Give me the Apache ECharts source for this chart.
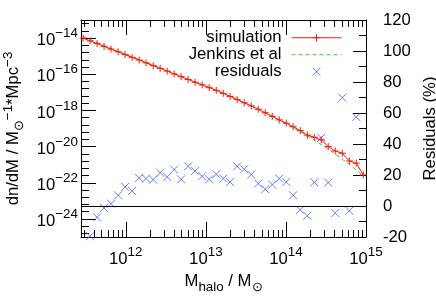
<!DOCTYPE html>
<html><head><meta charset="utf-8">
<script src="https://cdn.jsdelivr.net/npm/echarts@6/dist/echarts.min.js"></script>
<style>html,body{margin:0;padding:0;background:#fff}#c{width:436px;height:305px}</style>
</head><body><div id="c"></div>
<script>
// ---- data ----
const massBins = [2.93e11,3.58e11,4.38e11,5.36e11,6.55e11,8.02e11,9.81e11,1.20e12,1.47e12,1.79e12,
  2.20e12,2.69e12,3.29e12,4.02e12,4.91e12,6.01e12,7.35e12,8.99e12,1.10e13,1.35e13,
  1.65e13,2.01e13,2.46e13,3.01e13,3.69e13,4.51e13,5.51e13,6.75e13,8.25e13,1.01e14,
  1.23e14,1.51e14,1.85e14,2.26e14,2.76e14,3.38e14,4.13e14,5.06e14,6.19e14,7.57e14,9.26e14];
const simulation = [1.00e-14,7.01e-15,4.98e-15,3.49e-15,2.45e-15,1.74e-15,1.22e-15,8.55e-16,6.08e-16,4.26e-16,
  2.99e-16,2.12e-16,1.49e-16,1.04e-16,7.33e-17,5.13e-17,3.60e-17,2.59e-17,1.82e-17,1.29e-17,
  8.83e-18,5.96e-18,3.97e-18,2.65e-18,1.77e-18,1.16e-18,7.45e-19,4.66e-19,2.99e-19,1.97e-19,
  1.26e-19,7.62e-20,4.31e-20,3.26e-20,2.34e-20,1.00e-20,5.66e-21,4.28e-21,1.60e-21,1.21e-21,2.71e-22];
const jenkins = [1.29e-14,8.48e-15,5.73e-15,3.92e-15,2.71e-15,1.88e-15,1.32e-15,9.23e-16,6.47e-16,4.54e-16,
  3.18e-16,2.23e-16,1.57e-16,1.10e-16,7.71e-17,5.41e-17,3.79e-17,2.66e-17,1.84e-17,1.27e-17,
  8.71e-18,5.96e-18,4.02e-18,2.68e-18,1.77e-18,1.15e-18,7.36e-19,4.66e-19,2.92e-19,1.80e-19,
  1.10e-19,6.62e-20,3.94e-20,2.29e-20,1.29e-20,7.12e-21,3.83e-21,2.01e-21,1.02e-21,5.10e-22,2.48e-22];
const residuals = [null,-19.5,-7.3,-1.3,1.5,6.9,12.3,9.7,18.1,17.7,
  17.0,21.5,18.7,23.5,17.2,25.6,22.6,19.2,17.2,20.5,
  17.7,15.5,25.6,23.7,20.3,14.5,10.8,13.8,17.7,15.5,
  6.9,-2.5,-6.3,15.3,44.0,15.1,-4.5,69.9,-3.1,57.4,null];
const xMajorTicks = [1e12,1e13,1e14,0.9999999e15];
const xMinorTicks = [3e11,4e11,5e11,6e11,7e11,8e11,9e11,
  2e12,3e12,4e12,5e12,6e12,7e12,8e12,9e12,
  2e13,3e13,4e13,5e13,6e13,7e13,8e13,9e13,
  2e14,3e14,4e14,5e14,6e14,7e14,8e14,9e14];
const yMajorExp = [-24,-22,-20,-18,-16,-14];
const yMinorExp = [-24.8,-24.4,-23.6,-23.2,-22.8,-22.4,-21.6,-21.2,-20.8,-20.4,-19.6,-19.2,-18.8,-18.4,
  -17.6,-17.2,-16.8,-16.4,-15.6,-15.2,-14.8,-14.4,-13.6,-13.2];

// ---- styling ----
const FONT = '"Liberation Sans", Arial, Helvetica, sans-serif';
const RED = '#ff1a0a', GREEN = '#33cc33', BLUE = '#3b5cff';
const FS = 16.7, FSS = 13.4;
const PLUS = 'path://M5,0L5,10M0,5L10,5';
const CROSS = 'path://M0,0L10,10M10,0L0,10';
const CROSS_PAD = 'path://M-1,-1M11,11M0,0L10,10M10,0L0,10';
const yMajorTicks = yMajorExp.map(e => Math.pow(10, e));
const yMinorTicks = yMinorExp.map(e => Math.pow(10, e));

function powLabel(v) {
  const e = Math.round(Math.log10(v));
  return '{b|10}{e|' + String(e).replace('-', '\u2212') + '}';
}
const richPow = {
  b: {fontSize: FS, fontFamily: FONT, color: '#000', lineHeight: 22, verticalAlign: 'bottom'},
  e: {fontSize: FSS, fontFamily: FONT, color: '#000', lineHeight: 12, verticalAlign: 'top'}
};
const richName = {
  t: {fontSize: FS, fontFamily: FONT, color: '#000', lineHeight: 24},
  s: {fontSize: FSS, fontFamily: FONT, color: '#000', lineHeight: 12, verticalAlign: 'bottom'},
  p: {fontSize: FSS, fontFamily: FONT, color: '#000', lineHeight: 12, verticalAlign: 'top'}
};
const X0 = 2.76e11, X1 = 1e15, Y0 = 1e-25, Y1 = 1e-13;
const line = {show: true, onZero: false, lineStyle: {color: '#000', width: 1}};
const noLine = {show: false, onZero: false};

function xAx(pos, major, show) {
  return {
    type: 'log', position: pos, min: X0, max: X1,
    axisLine: show ? line : noLine,
    axisTick: {show: true, inside: true, length: major ? 15 : 7, customValues: major ? xMajorTicks : xMinorTicks,
      lineStyle: {color: '#000', width: 1}},
    axisLabel: (pos === 'bottom' && major) ?
      {show: true, customValues: xMajorTicks, formatter: powLabel, rich: richPow, margin: 9, showMaxLabel: true, showMinLabel: true} :
      {show: false},
    splitLine: {show: false}
  };
}

const chart = echarts.init(document.getElementById('c'), null, {renderer: 'canvas'});
chart.setOption({
  animation: false,
  backgroundColor: '#fff',
  grid: {left: 81, right: 70, top: 20, bottom: 68, containLabel: false, outerBoundsMode: 'none'},
  legend: {
    orient: 'vertical', right: 89, top: 24, align: 'right',
    itemWidth: 50, itemHeight: 9, itemGap: -0.5, selectedMode: false,
    lineStyle: {width: 1},
    itemStyle: {borderWidth: 1},
    textStyle: {fontSize: FS, fontFamily: FONT, color: '#000', lineHeight: 17.5, padding: [0, 5, 0, 0]},
    data: [
      {name: 'simulation'},
      {name: 'Jenkins et al', itemStyle: {opacity: 0}},
      {name: 'residuals', icon: CROSS_PAD}
    ]
  },
  xAxis: [
    Object.assign(xAx('bottom', true, true), {
      name: '{t|M}{s|halo}{t| / M}{s|⊙}', nameLocation: 'middle', nameGap: 30,
      nameTextStyle: {rich: richName}
    }),
    xAx('bottom', false, false),
    xAx('top', true, true),
    xAx('top', false, false)
  ],
  yAxis: [
    {
      type: 'log', position: 'left', min: Y0, max: Y1,
      axisLine: line,
      axisTick: {show: true, inside: true, length: 15, customValues: yMajorTicks, lineStyle: {color: '#000', width: 1}},
      axisLabel: {show: true, customValues: yMajorTicks, formatter: powLabel, rich: richPow, margin: 3},
      splitLine: {show: false},
      name: '{t|dn/dM / M}{s|⊙}{p|\u22121}{t|*Mpc}{p|\u22123}', nameLocation: 'middle', nameGap: 48, nameRotate: 90,
      nameTextStyle: {rich: richName}
    },
    {
      type: 'value', position: 'right', min: -20, max: 120, interval: 20,
      axisLine: line,
      axisTick: {show: true, inside: true, length: 13, lineStyle: {color: '#000', width: 1}},
      minorTick: {show: true, splitNumber: 2, length: 7, lineStyle: {color: '#000', width: 1}},
      axisLabel: {show: true, margin: 17, fontSize: FS, fontFamily: FONT, color: '#000', showMinLabel: true, showMaxLabel: true},
      splitLine: {show: false},
      name: 'Residuals (%)', nameLocation: 'middle', nameGap: 44, nameRotate: 90,
      nameTextStyle: {fontSize: FS, fontFamily: FONT, color: '#000'}
    },
    {
      type: 'log', position: 'left', min: Y0, max: Y1,
      axisLine: noLine,
      axisTick: {show: true, inside: true, length: 8, customValues: yMinorTicks, lineStyle: {color: '#000', width: 1}},
      axisLabel: {show: false},
      splitLine: {show: false}
    }
  ],
  series: [
    {
      name: 'simulation', type: 'line', xAxisIndex: 0, yAxisIndex: 0,
      data: massBins.map((m, i) => [m, simulation[i]]),
      symbol: PLUS, symbolSize: 7, showAllSymbol: true,
      lineStyle: {color: RED, width: 1},
      itemStyle: {color: RED, borderColor: RED, borderWidth: 1},
      z: 4
    },
    {
      name: 'Jenkins et al', type: 'line', xAxisIndex: 0, yAxisIndex: 0,
      data: massBins.map((m, i) => [m, jenkins[i]]),
      symbol: 'none',
      lineStyle: {color: GREEN, width: 1, type: [4, 3]},
      itemStyle: {color: GREEN},
      z: 3
    },
    {
      name: 'residuals', type: 'scatter', xAxisIndex: 0, yAxisIndex: 1,
      data: massBins.map((m, i) => [m, residuals[i]]).filter(d => d[1] !== null),
      symbol: CROSS, symbolSize: 8,
      itemStyle: {color: BLUE, borderColor: BLUE, borderWidth: 1},
      markLine: {
        silent: true, symbol: ['none', 'none'], label: {show: false},
        lineStyle: {color: '#000', width: 1, type: 'solid'},
        data: [{yAxis: 0}]
      },
      z: 2
    }
  ]
});
</script>
</body></html>
